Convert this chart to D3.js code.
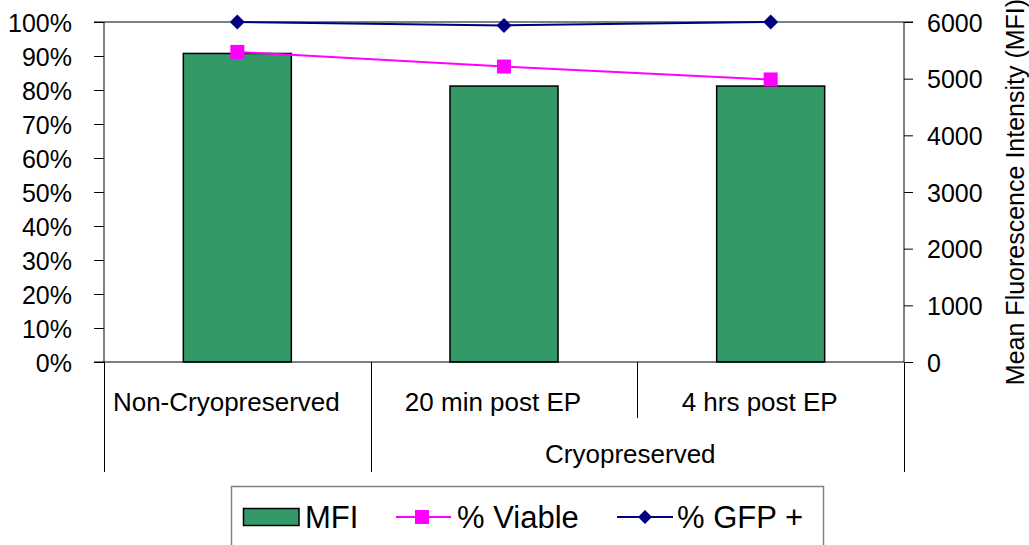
<!DOCTYPE html>
<html>
<head>
<meta charset="utf-8">
<script src="https://cdn.jsdelivr.net/npm/d3@7"></script>
<style>
  body { margin: 0; background: #fff; }
  svg { display: block; font-family: "Liberation Sans", Arial, sans-serif; }
</style>
</head>
<body>
<div class="content"></div>
<script>
//--> Data
const categories = ["Non-Cryopreserved", "20 min post EP", "4 hrs post EP"];
const groups = [
  { name: "", from: 0, to: 0 },
  { name: "Cryopreserved", from: 1, to: 2 }
];
const mfi = [5445, 4870, 4870];
const viable = [0.912, 0.869, 0.831];
const gfp = [1.0, 0.99, 1.0];
const pctTicks = [0, 0.1, 0.2, 0.3, 0.4, 0.5, 0.6, 0.7, 0.8, 0.9, 1.0];
const mfiTicks = [0, 1000, 2000, 3000, 4000, 5000, 6000];

//--> Constants
const width = 1029;
const height = 545;
const plot = { left: 104, right: 904, top: 22, bottom: 362 };
const fontSize = 25;
const catFontSize = 26;
const legendFontSize = 31;
const green = "#339966";
const pink = "#ff00ff";
const navy = "#000080";

const svg = d3
  .select(".content")
  .append("svg")
  .attr("width", width)
  .attr("height", height);

//--> Scales
const x = d3
  .scaleBand()
  .domain(categories)
  .range([plot.left, plot.right]);
const barWidth = x.bandwidth() * 0.405;
const yPct = d3.scaleLinear().domain([0, 1]).range([plot.bottom, plot.top]);
const yMfi = d3.scaleLinear().domain([0, 6000]).range([plot.bottom, plot.top]);
const cx = d => x(d) + x.bandwidth() / 2;

//--> Plot area border (only top shows)
svg
  .append("line")
  .attr("x1", plot.left)
  .attr("x2", plot.right)
  .attr("y1", plot.top)
  .attr("y2", plot.top)
  .attr("stroke", "#808080")
  .attr("stroke-width", 2);

//--> Bars
svg
  .selectAll("rect.bar")
  .data(mfi)
  .enter()
  .append("rect")
  .attr("class", "bar")
  .attr("x", (d, i) => cx(categories[i]) - barWidth / 2)
  .attr("y", d => yMfi(d))
  .attr("width", barWidth)
  .attr("height", d => plot.bottom - yMfi(d))
  .attr("fill", green)
  .attr("stroke", "#000")
  .attr("stroke-width", 1.5);

//--> Left axis
const leftAxis = d3
  .axisLeft(yPct)
  .tickValues(pctTicks)
  .tickFormat(d3.format(".0%"))
  .tickSize(10)
  .tickPadding(22);
svg
  .append("g")
  .attr("transform", `translate(${plot.left},0)`)
  .call(leftAxis)
  .call(g => g.select(".domain").attr("stroke", "#000").attr("d", `M-10,${plot.top}H0V${plot.bottom}H-10`))
  .call(g => g.selectAll("text").attr("font-size", fontSize).attr("fill", "#000").attr("font-family", null).attr("dy", "0.36em"));

//--> Right axis
const rightAxis = d3
  .axisRight(yMfi)
  .tickValues(mfiTicks)
  .tickFormat(d3.format("d"))
  .tickSize(9)
  .tickPadding(14);
svg
  .append("g")
  .attr("transform", `translate(${plot.right},0)`)
  .call(rightAxis)
  .call(g => g.select(".domain").attr("d", `M9,${plot.top}H0V${plot.bottom}`))
  .call(g => g.selectAll("text").attr("font-size", fontSize).attr("fill", "#000").attr("font-family", null).attr("dy", "0.36em"));

svg
  .append("text")
  .attr("transform", `translate(1024, ${(plot.top + plot.bottom) / 2}) rotate(-90)`)
  .attr("text-anchor", "middle")
  .attr("font-size", fontSize)
  .text("Mean Fluorescence Intensity (MFI)");

//--> Category axis (two levels)
const catAxis = svg.append("g");
catAxis
  .append("line")
  .attr("x1", plot.left)
  .attr("x2", plot.right)
  .attr("y1", plot.bottom)
  .attr("y2", plot.bottom)
  .attr("stroke", "#000");

const edges = [plot.left, plot.right].concat(groups.slice(1).map(g => x(categories[g.from])));
catAxis
  .selectAll("line.edge")
  .data(edges)
  .enter()
  .append("line")
  .attr("class", "edge")
  .attr("x1", d => Math.round(d) + 0.5)
  .attr("x2", d => Math.round(d) + 0.5)
  .attr("y1", plot.bottom)
  .attr("y2", 472)
  .attr("stroke", "#000");

const inner = groups
  .filter(g => g.to > g.from)
  .flatMap(g => d3.range(g.from + 1, g.to + 1).map(i => x(categories[i])));
catAxis
  .selectAll("line.inner")
  .data(inner)
  .enter()
  .append("line")
  .attr("class", "inner")
  .attr("x1", d => Math.round(d) + 0.5)
  .attr("x2", d => Math.round(d) + 0.5)
  .attr("y1", plot.bottom)
  .attr("y2", 418)
  .attr("stroke", "#000");

catAxis
  .selectAll("text.cat")
  .data(categories)
  .enter()
  .append("text")
  .attr("class", "cat")
  .attr("x", d => cx(d) - 11)
  .attr("y", 411)
  .attr("text-anchor", "middle")
  .attr("font-size", catFontSize)
  .text(d => d);

catAxis
  .selectAll("text.group")
  .data(groups.filter(g => g.name))
  .enter()
  .append("text")
  .attr("class", "group")
  .attr("x", g => (x(categories[g.from]) + x(categories[g.to]) + x.bandwidth()) / 2 - 7)
  .attr("y", 463)
  .attr("text-anchor", "middle")
  .attr("font-size", catFontSize)
  .text(g => g.name);

//--> Lines
const line = d3
  .line()
  .x((d, i) => cx(categories[i]))
  .y(d => yPct(d));

svg
  .append("path")
  .datum(viable)
  .attr("d", line)
  .attr("fill", "none")
  .attr("stroke", pink)
  .attr("stroke-width", 2);

svg
  .append("path")
  .datum(gfp)
  .attr("d", line)
  .attr("fill", "none")
  .attr("stroke", navy)
  .attr("stroke-width", 2);

const square = 14;
svg
  .selectAll("rect.viable")
  .data(viable)
  .enter()
  .append("rect")
  .attr("class", "viable")
  .attr("x", (d, i) => cx(categories[i]) - square / 2)
  .attr("y", d => yPct(d) - square / 2)
  .attr("width", square)
  .attr("height", square)
  .attr("fill", pink);

const diamond = 7.5;
svg
  .selectAll("path.gfp")
  .data(gfp)
  .enter()
  .append("path")
  .attr("class", "gfp")
  .attr("transform", (d, i) => `translate(${cx(categories[i])},${yPct(d)})`)
  .attr("d", `M0,${-diamond}L${diamond},0L0,${diamond}L${-diamond},0Z`)
  .attr("fill", navy);

//--> Legend
const legend = svg.append("g").attr("id", "legend");
legend
  .append("rect")
  .attr("x", 231.5)
  .attr("y", 486.5)
  .attr("width", 592)
  .attr("height", 80)
  .attr("fill", "#fff")
  .attr("stroke", "#808080")
  .attr("stroke-width", 1.5);

const ly = 517;
legend
  .append("rect")
  .attr("x", 243.5)
  .attr("y", ly - 8.5)
  .attr("width", 55.5)
  .attr("height", 17)
  .attr("fill", green)
  .attr("stroke", "#000")
  .attr("stroke-width", 1.5);
legend
  .append("text")
  .attr("x", 305)
  .attr("y", ly + 11)
  .attr("font-size", legendFontSize)
  .text("MFI");

legend
  .append("line")
  .attr("x1", 396).attr("x2", 451)
  .attr("y1", ly).attr("y2", ly)
  .attr("stroke", pink).attr("stroke-width", 2);
legend
  .append("rect")
  .attr("x", 422 - 7)
  .attr("y", ly - 7)
  .attr("width", 14)
  .attr("height", 14)
  .attr("fill", pink);
legend
  .append("text")
  .attr("x", 457)
  .attr("y", ly + 11)
  .attr("font-size", legendFontSize)
  .text("% Viable");

legend
  .append("line")
  .attr("x1", 617).attr("x2", 673)
  .attr("y1", ly).attr("y2", ly)
  .attr("stroke", navy).attr("stroke-width", 2);
legend
  .append("path")
  .attr("transform", `translate(645,${ly})`)
  .attr("d", "M0,-7L7,0L0,7L-7,0Z")
  .attr("fill", navy);
legend
  .append("text")
  .attr("x", 677)
  .attr("y", ly + 11)
  .attr("font-size", legendFontSize)
  .text("% GFP +");
</script>
</body>
</html>
